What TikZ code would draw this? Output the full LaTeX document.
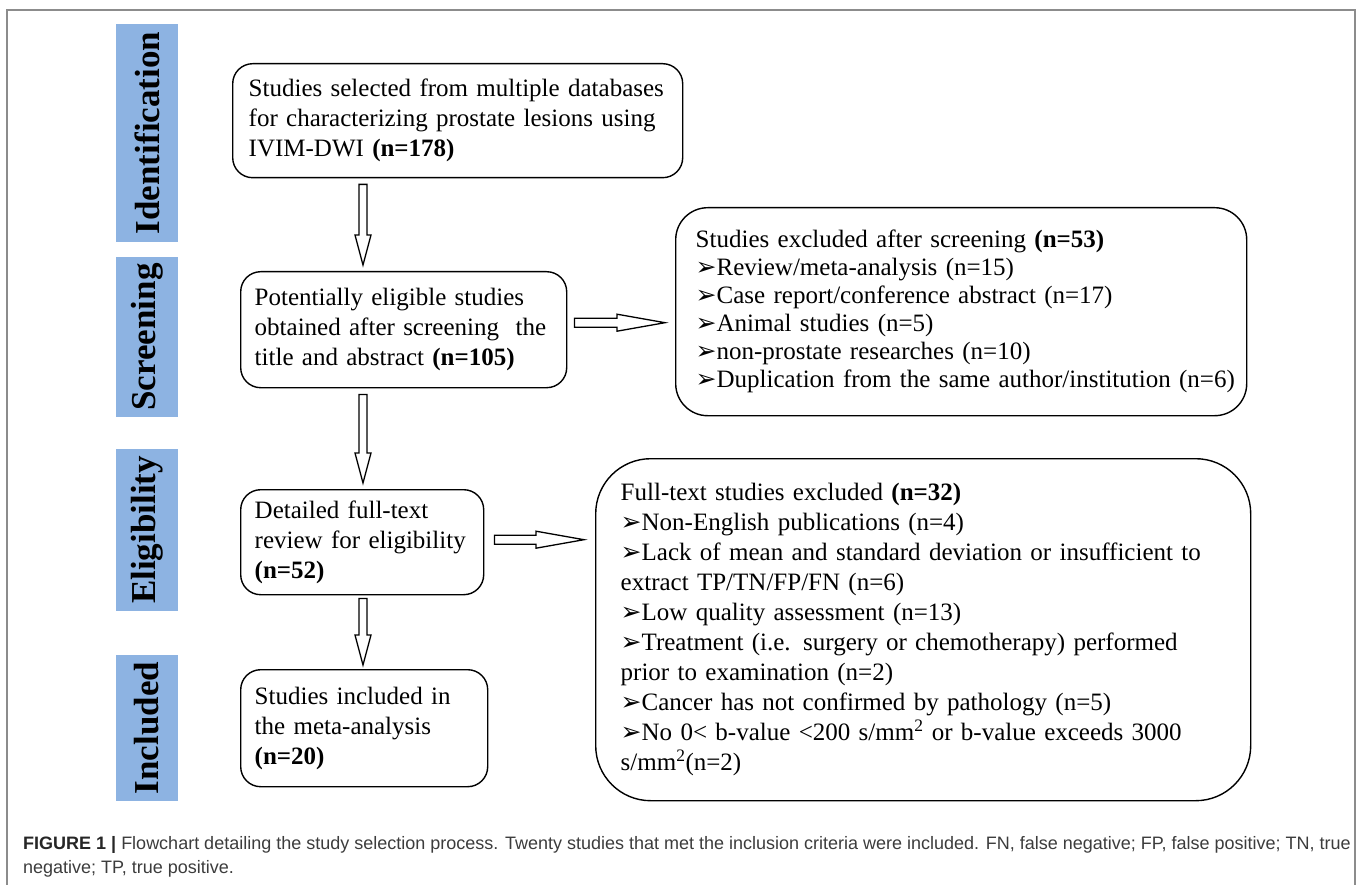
\documentclass[tikz,border=0pt]{standalone}
\usepackage{fontspec}
\setmainfont{Liberation Serif}
\newfontfamily\capfont{Liberation Sans}
\newfontfamily\dingfont{DejaVu Sans}
\usetikzlibrary{calc}

\definecolor{phaseblue}{HTML}{8DB3E2}
\definecolor{framegray}{HTML}{8C8C8C}
\definecolor{capgray}{HTML}{3C3C3C}
\newcommand{\bul}{{\dingfont\fontsize{25}{25}\selectfont ➢}}
\newcommand{\boxlines}[1]{\begin{tabular}{@{}l@{}}#1\end{tabular}}

\begin{document}
\begin{tikzpicture}[x=1pt,y=-1pt,
    every node/.style={inner sep=0pt},
    phase/.style={fill=phaseblue,rotate=90,minimum height=62pt,font=\fontsize{35}{35}\selectfont\bfseries},
    box/.style={draw,line width=1.4pt,rounded corners=20pt,anchor=north west,align=left,
      inner xsep=14pt,font=\fontsize{25}{30}\selectfont},
    caption/.style={anchor=base west,text=capgray,font=\capfont\fontsize{18}{18}\selectfont},
    downarrow/.style={line width=1.3pt,fill=white,to path={let \p1=(\tikztostart),\p2=(\tikztotarget) in
      ({\x1-4pt},{\y1}) -- ({\x1-4pt},{\y2+30pt}) -- ({\x1-8pt},{\y2+30pt}) -- ({\x1},{\y2})
      -- ({\x1+8pt},{\y2+30pt}) -- ({\x1+4pt},{\y2+30pt}) -- ({\x1+4pt},{\y1}) -- cycle}},
    rightarrow/.style={line width=1.3pt,fill=white,to path={let \p1=(\tikztostart),\p2=(\tikztotarget) in
      ({\x1},{\y1+4.5pt}) -- ({\x2-48pt},{\y1+4.5pt}) -- ({\x2-48pt},{\y1+8.5pt}) -- ({\x2},{\y1})
      -- ({\x2-48pt},{\y1-8.5pt}) -- ({\x2-48pt},{\y1-4.5pt}) -- ({\x1},{\y1-4.5pt}) -- cycle}}]
  \useasboundingbox (0,0) rectangle (1357,885);
  \draw[framegray,line width=1.5pt] (7,885) -- (7,10) -- (1355,10) -- (1355,885);

  % phases
  \node[phase,minimum width=218pt] (ident) at (147,133) {Identification};
  \node[phase,minimum width=160pt] (scrn) at (147,337) {Screening};
  \node[phase,minimum width=162pt] (elig) at (147,530) {Eligibility};
  \node[phase,minimum width=146pt] (incl) at (147,728) {Included};

  % flow boxes
  \node[box,inner xsep=16pt,text width=418pt,minimum height=114pt] (select) at (232,63)
    {\boxlines{Studies selected from multiple databases\\for characterizing prostate lesions using\\IVIM-DWI \textbf{(n=178)}}};
  \node[box,text width=298pt,minimum height=116pt] (screened) at (240,271)
    {\boxlines{Potentially eligible studies\\obtained after screening\ \ the\\title and abstract \textbf{(n=105)}}};
  \node[box,text width=215pt,minimum height=105pt] (fulltext) at (240,489)
    {\boxlines{Detailed full-text\\review for eligibility\\\textbf{(n=52)}}};
  \node[box,text width=219pt,minimum height=117pt] (included) at (240,669)
    {\boxlines{Studies included in\\the meta-analysis\\\textbf{(n=20)}}};

  % exclusion boxes
  \node[box,rounded corners=32pt,inner xsep=20pt,text width=531pt,minimum height=208pt,
    font=\fontsize{25}{28}\selectfont] (exclscr) at (675,207)
    {\boxlines{Studies excluded after screening \textbf{(n=53)}\\
     \bul Review/meta-analysis (n=15)\\
     \bul Case report/conference abstract (n=17)\\
     \bul Animal studies (n=5)\\
     \bul non-prostate researches (n=10)\\
     \bul Duplication from the same author/institution (n=6)}};
  \node[box,rounded corners=55pt,inner xsep=25pt,text width=605pt,minimum height=342pt] (exclful) at (595,458)
    {\boxlines{Full-text studies excluded \textbf{(n=32)}\\
     \bul Non-English publications (n=4)\\
     \bul Lack of mean and standard deviation or insufficient to\\
     extract TP/TN/FP/FN (n=6)\\
     \bul Low quality assessment (n=13)\\
     \bul Treatment (i.e. surgery or chemotherapy) performed\\
     prior to examination (n=2)\\
     \bul Cancer has not confirmed by pathology (n=5)\\
     \bul No 0< b-value <200 s/mm\textsuperscript{2} or b-value exceeds 3000\\
     s/mm\textsuperscript{2}(n=2)}};

  % arrows
  \coordinate (spine) at (363,0);
  \draw[downarrow] ([yshift=-6pt]select.south -| spine) to ([yshift=6pt]screened.north -| spine);
  \draw[downarrow] ([yshift=-6pt]screened.south -| spine) to ([yshift=6pt]fulltext.north -| spine);
  \draw[downarrow] ([yshift=-3pt]fulltext.south -| spine) to ([yshift=4pt]included.north -| spine);
  \draw[rightarrow] ([shift={(7pt,7pt)}]screened.east) to ([xshift=-10pt]exclscr.west);
  \draw[rightarrow] ([shift={(10pt,2.5pt)}]fulltext.east) to ([xshift=-11pt]exclful.west);

  % caption
  \node[caption] (cap1) at (23,849) {\textbf{\color{black!85}FIGURE 1 |} Flowchart detailing the study selection process. Twenty studies that met the inclusion criteria were included. FN, false negative; FP, false positive; TN, true};
  \node[caption] (cap2) at (23,873) {negative; TP, true positive.};
\end{tikzpicture}
\end{document}
